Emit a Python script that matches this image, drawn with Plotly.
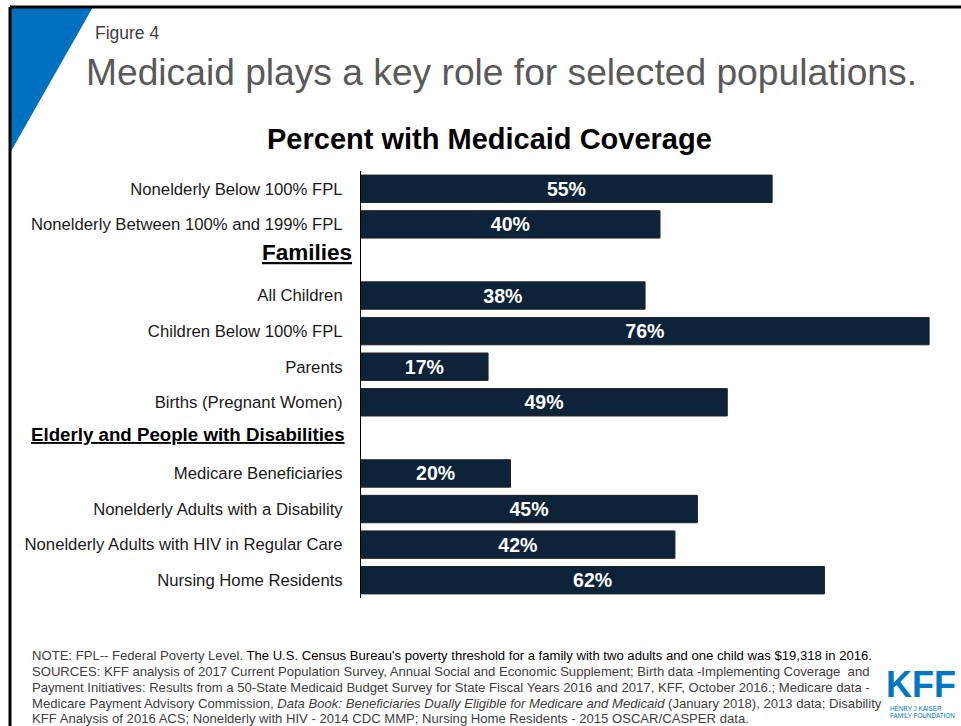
import plotly.graph_objects as go

categories = [
    "Nonelderly Below 100% FPL",
    "Nonelderly Between 100% and 199% FPL",
    "Families",
    "All Children",
    "Children Below 100% FPL",
    "Parents",
    "Births (Pregnant Women)",
    "Elderly and People with Disabilities",
    "Medicare Beneficiaries",
    "Nonelderly Adults with a Disability",
    "Nonelderly Adults with HIV in Regular Care",
    "Nursing Home Residents",
]
headers = ["Families", "Elderly and People with Disabilities"]
values = [55, 40, None, 38, 76, 17, 49, None, 20, 45, 42, 62]
labels = [f"{v}%" if v is not None else "" for v in values]
ticktext = ["" if c in headers else c for c in categories]

# layout geometry (pixels)
W, H = 961, 726
L, T, PW, PH = 361, 171, 598, 427


def px(x):
    return (x - L) / PW


def py(y):
    return 1 - (y - T) / PH


FONT = "Arial, Liberation Sans, sans-serif"

fig = go.Figure()
fig.add_trace(go.Bar(
    x=values, y=categories, orientation="h",
    marker=dict(color="#0c2339", line=dict(color="#222222", width=1)),
    text=labels, textposition="inside", insidetextanchor="middle",
    textfont=dict(family=FONT, size=21, color="white", weight="bold"),
    cliponaxis=False, hoverinfo="skip",
))

annotations = []
# section headers
annotations.append(dict(text="<b><u>Families</u></b>", xref="paper", yref="y", x=px(354), y="Families",
                        xanchor="right", yanchor="middle", yshift=7, showarrow=False,
                        font=dict(family=FONT, size=22.5, color="black")))
annotations.append(dict(text="<b><u>Elderly and People with Disabilities</u></b>", xref="paper", yref="y",
                        x=px(347), y="Elderly and People with Disabilities",
                        xanchor="right", yanchor="middle", yshift=3, showarrow=False,
                        font=dict(family=FONT, size=18.7, color="black")))
# titles
annotations.append(dict(text="Figure 4", xref="paper", yref="paper", x=px(93), y=py(33),
                        xanchor="left", yanchor="middle", showarrow=False,
                        font=dict(family=FONT, size=17.5, color="#404040")))
annotations.append(dict(text="Medicaid plays a key role for selected populations.", xref="paper", yref="paper",
                        x=px(501), y=py(72), xanchor="center", yanchor="middle", showarrow=False,
                        font=dict(family=FONT, size=37.2, color="#595959")))
annotations.append(dict(text="<b>Percent with Medicaid Coverage</b>", xref="paper", yref="paper",
                        x=px(489), y=py(139), xanchor="center", yanchor="middle", showarrow=False,
                        font=dict(family=FONT, size=29, color="black")))
# notes
note_lines = [
    "<span style='color:#404040'>NOTE: FPL-- Federal Poverty Level.</span> The U.S. Census Bureau's poverty threshold for a family with two adults and one child was $19,318 in 2016.",
    "SOURCES: KFF analysis of 2017 Current Population Survey, Annual Social and Economic Supplement; Birth data -Implementing Coverage  and",
    "Payment Initiatives: Results from a 50-State Medicaid Budget Survey for State Fiscal Years 2016 and 2017, KFF, October 2016.; Medicare data -",
    "Medicare Payment Advisory Commission, <i>Data Book: Beneficiaries Dually Eligible for Medicare and Medicaid</i> (January 2018), 2013 data; Disability",
    "KFF Analysis of 2016 ACS; Nonelderly with HIV - 2014 CDC MMP; Nursing Home Residents - 2015 OSCAR/CASPER data.",
]
note_y = [655, 671, 687, 703, 718.5]
for i, (t, yy) in enumerate(zip(note_lines, note_y)):
    color = "#000000" if i == 0 else "#404040"
    annotations.append(dict(text=t, xref="paper", yref="paper", x=px(30), y=py(yy),
                            xanchor="left", yanchor="middle", showarrow=False,
                            font=dict(family=FONT, size=13.1, color=color)))
# KFF logo
annotations.append(dict(text="<b>KFF</b>", xref="paper", yref="paper", x=px(921), y=py(684),
                        xanchor="center", yanchor="middle", showarrow=False,
                        font=dict(family=FONT, size=36, color="#0077c0")))
annotations.append(dict(text="HENRY J KAISER", xref="paper", yref="paper", x=px(888), y=py(708),
                        xanchor="left", yanchor="middle", showarrow=False,
                        font=dict(family=FONT, size=6.3, color="#0077c0")))
annotations.append(dict(text="FAMILY FOUNDATION", xref="paper", yref="paper", x=px(888), y=py(715.5),
                        xanchor="left", yanchor="middle", showarrow=False,
                        font=dict(family=FONT, size=6.3, color="#0077c0")))

shapes = [
    dict(type="path", xref="paper", yref="paper",
         path=f"M {px(10)} {py(7)} L {px(93)} {py(7)} L {px(10)} {py(153)} Z",
         fillcolor="#0070c0", line=dict(width=0)),
    dict(type="line", xref="paper", yref="paper", x0=px(10), x1=px(961), y0=py(7), y1=py(7),
         line=dict(color="black", width=3)),
    dict(type="line", xref="paper", yref="paper", x0=px(10), x1=px(10), y0=py(7), y1=py(726),
         line=dict(color="black", width=3)),
]

fig.update_layout(
    width=W, height=H,
    margin=dict(l=L, r=W - L - PW, t=T, b=H - T - PH),
    paper_bgcolor="white", plot_bgcolor="white",
    showlegend=False, bargap=0.23,
    annotations=annotations, shapes=shapes,
    xaxis=dict(range=[0, 80], showgrid=False, zeroline=False, showticklabels=False,
               showline=False, fixedrange=True),
    yaxis=dict(autorange="reversed", categoryorder="array", categoryarray=categories,
               tickmode="array", tickvals=categories, ticktext=ticktext,
               showgrid=False, zeroline=False, showline=True, linecolor="black", linewidth=1,
               ticks="outside", ticklen=14, tickcolor="rgba(0,0,0,0)",
               tickfont=dict(family=FONT, size=16.7, color="#1a1a1a"), fixedrange=True),
)

fig.write_html("out.html")
